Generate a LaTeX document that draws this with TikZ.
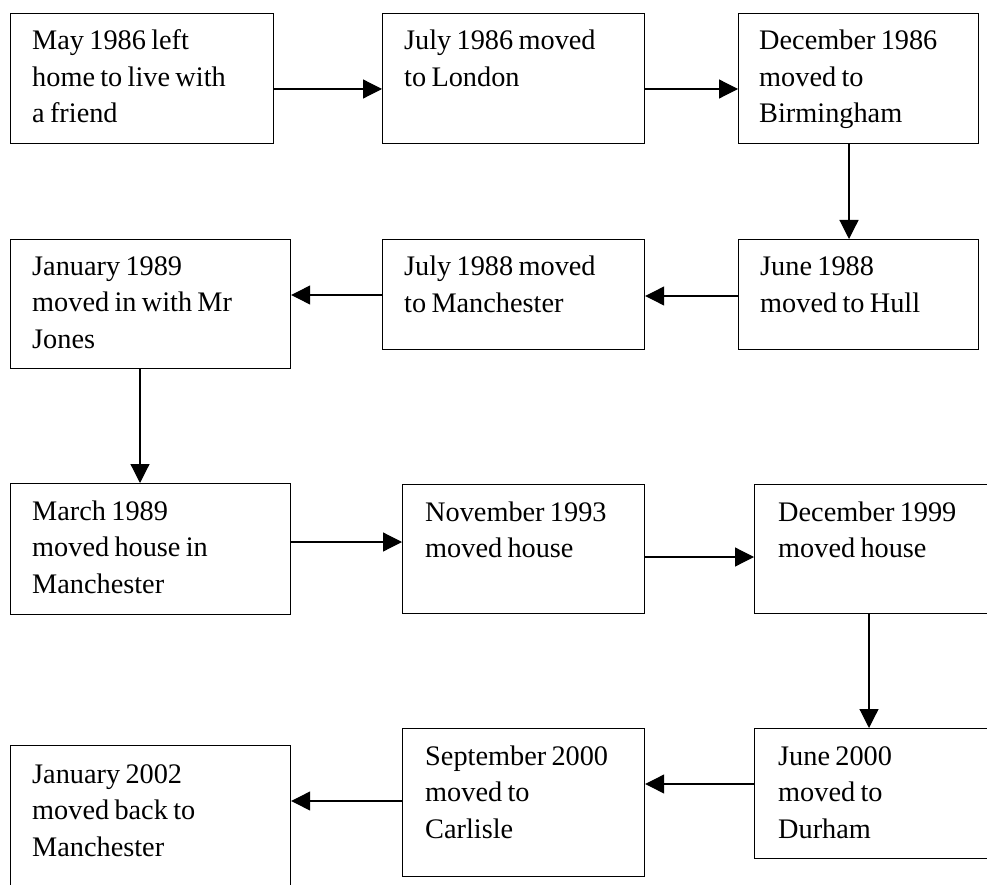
\documentclass[tikz,border=0pt]{standalone}
\usepackage{fontspec}
\setmainfont[WordSpace=0.75]{Liberation Serif}
\usetikzlibrary{arrows.meta}
\begin{document}
\begin{tikzpicture}[x=1pt,y=1pt,
  box/.style={draw,line width=1.2pt,rectangle,inner sep=0pt,anchor=north west},
  txt/.style={inner sep=0pt,anchor=base west,font=\fontsize{28.3}{36.5}\selectfont},
  conn/.style={-{Triangle[length=19pt,width=19pt]},line width=1.2pt}]
\useasboundingbox (0,0) rectangle (987,-885);
\clip (0,0) rectangle (987,-885);
% boxes
\node[box,minimum width=263pt,minimum height=130pt] (A) at (10,-13) {};
\node[box,minimum width=262pt,minimum height=130pt] (B) at (382,-13) {};
\node[box,minimum width=240pt,minimum height=130pt] (C) at (738,-13) {};
\node[box,minimum width=280pt,minimum height=129pt] (D) at (10,-239) {};
\node[box,minimum width=262pt,minimum height=110pt] (E) at (382,-239) {};
\node[box,minimum width=240pt,minimum height=110pt] (F) at (738,-239) {};
\node[box,minimum width=280pt,minimum height=131pt] (G) at (10,-483) {};
\node[box,minimum width=242pt,minimum height=129pt] (H) at (402,-484) {};
\node[box,minimum width=260pt,minimum height=129pt] (I) at (754,-484) {};
\node[box,minimum width=280pt,minimum height=170pt] (J) at (10,-745) {};
\node[box,minimum width=242pt,minimum height=148pt] (K) at (402,-728) {};
\node[box,minimum width=260pt,minimum height=130pt] (L) at (754,-728) {};
% texts
\node[txt] (tA) at ([xshift=22pt,yshift=-37pt]A.north west) {\parbox[t]{240pt}{May 1986 left\\home to live with\\a friend}};
\node[txt] (tB) at ([xshift=22pt,yshift=-37pt]B.north west) {\parbox[t]{240pt}{July 1986 moved\\to London}};
\node[txt] (tC) at ([xshift=21pt,yshift=-37pt]C.north west) {\parbox[t]{220pt}{December 1986\\moved to\\Birmingham}};
\node[txt] (tD) at ([xshift=22pt,yshift=-36pt]D.north west) {\parbox[t]{250pt}{January 1989\\moved in with Mr\\Jones}};
\node[txt] (tE) at ([xshift=22pt,yshift=-37pt]E.north west) {\parbox[t]{240pt}{July 1988 moved\\to Manchester}};
\node[txt] (tF) at ([xshift=22pt,yshift=-37pt]F.north west) {\parbox[t]{220pt}{June 1988\\moved to Hull}};
\node[txt] (tG) at ([xshift=22pt,yshift=-37pt]G.north west) {\parbox[t]{250pt}{March 1989\\moved house in\\Manchester}};
\node[txt] (tH) at ([xshift=23pt,yshift=-37pt]H.north west) {\parbox[t]{220pt}{November 1993\\moved house}};
\node[txt] (tI) at ([xshift=24pt,yshift=-37pt]I.north west) {\parbox[t]{220pt}{December 1999\\moved house}};
\node[txt] (tJ) at ([xshift=22pt,yshift=-38pt]J.north west) {\parbox[t]{250pt}{January 2002\\moved back to\\Manchester}};
\node[txt] (tK) at ([xshift=23pt,yshift=-37pt]K.north west) {\parbox[t]{220pt}{September 2000\\moved to\\Carlisle}};
\node[txt] (tL) at ([xshift=24pt,yshift=-37pt]L.north west) {\parbox[t]{220pt}{June 2000\\moved to\\Durham}};
% connector levels
\coordinate (yAB) at (0,-89);
\coordinate (yFE) at (0,-296);
\coordinate (yED) at (0,-295);
\coordinate (yGH) at (0,-542);
\coordinate (yHI) at (0,-557);
\coordinate (yLK) at (0,-784);
\coordinate (yKJ) at (0,-801);
\coordinate (xCF) at (849,0);
\coordinate (xDG) at (140,0);
\coordinate (xIL) at (869,0);
% connectors
\draw[conn] (A.east |- yAB) -- (B.west |- yAB);
\draw[conn] (B.east |- yAB) -- (C.west |- yAB);
\draw[conn] (C.south -| xCF) -- (F.north -| xCF);
\draw[conn] (F.west |- yFE) -- (E.east |- yFE);
\draw[conn] (E.west |- yED) -- (D.east |- yED);
\draw[conn] (D.south -| xDG) -- (G.north -| xDG);
\draw[conn] (G.east |- yGH) -- (H.west |- yGH);
\draw[conn] (H.east |- yHI) -- (I.west |- yHI);
\draw[conn] (I.south -| xIL) -- (L.north -| xIL);
\draw[conn] (L.west |- yLK) -- (K.east |- yLK);
\draw[conn] (K.west |- yKJ) -- (J.east |- yKJ);
\end{tikzpicture}
\end{document}
